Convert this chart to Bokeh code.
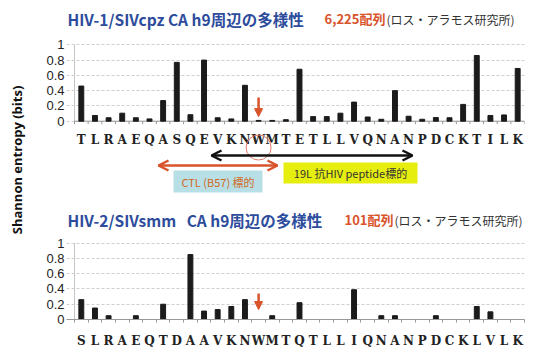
import math
from bokeh.plotting import figure
from bokeh.models import (ColumnDataSource, Range1d, FixedTicker, Label, Arrow,
                          OpenHead, NormalHead, BoxAnnotation)
from bokeh.embed import file_html
from bokeh.resources import INLINE
from bokeh.core.properties import value

# ---------------- data ----------------
top_letters = list("TLRAEQASQEVKNWMTETLLVQNANPDCKTILK")
top_values = [0.46, 0.075, 0.045, 0.105, 0.045, 0.03, 0.27, 0.77, 0.085, 0.80, 0.045,
              0.03, 0.47, 0.01, 0.01, 0.02, 0.68, 0.06, 0.06, 0.105, 0.25, 0.055,
              0.025, 0.40, 0.065, 0.025, 0.048, 0.045, 0.22, 0.86, 0.075, 0.082, 0.69]
bot_letters = list("SLRAEQTDAAVKNWMTQTLLIQNANPDCKLVLK")
bot_values = [0.26, 0.15, 0.05, 0, 0.05, 0, 0.20, 0, 0.85, 0.11, 0.13, 0.17, 0.26, 0,
              0.05, 0, 0.22, 0, 0, 0, 0.39, 0, 0.05, 0.05, 0, 0, 0.05, 0, 0, 0.17,
              0.10, 0, 0]
y_tick_values = [0, 0.2, 0.4, 0.6, 0.8, 1.0]
y_tick_labels = ["0", "0.2", "0.4", "0.6", "0.8", "1"]

top_title = "HIV-1/SIVcpz CA h9周辺の多様性"
top_count = "6,225配列"
bot_title = "HIV-2/SIVsmm\u00a0\u00a0 CA h9周辺の多様性"
bot_count = "101配列"
source_note = "(ロス・アラモス研究所)"
y_label = "Shannon entropy (bits)"
ctl_text = "CTL (B57) 標的"
pep_text = "19L 抗HIV peptide標的"

# ---------------- layout constants ----------------
FL, FR = 66, 24          # left / right borders
FW, FH = 458, 319        # frame size
FB = 28                  # bottom border (x axis)
PXU = 76.4               # pixels per entropy unit
YEND = FH / PXU
PXX = FW / 33.5867
X0 = 0.5 - (74 - FL) / PXX


def my(img_y):   # page y -> main data y
    return (FH - img_y) / PXU


def mx(img_x):   # page x -> data x
    return 0.5 + (img_x - 74) / PXX


T = my(120.7)    # zero of the upper panel inside the main range

xs = list(range(1, len(top_letters) + 1))
top_src = ColumnDataSource(dict(x=xs, v=top_values, lab=top_letters))
bot_src = ColumnDataSource(dict(x=xs, v=bot_values))

p = figure(frame_width=FW, frame_height=FH, output_backend="svg", toolbar_location=None,
           x_range=Range1d(X0, 33.5), y_range=Range1d(0, YEND),
           min_border_left=FL, min_border_right=FR, min_border_top=0,
           min_border_bottom=FB)
p.extra_y_ranges = {"top": Range1d(-T, YEND - T)}
p.outline_line_color = None
p.xgrid.visible = False

# y axis shared by both panels
bt = [round(v, 4) for v in y_tick_values]
tt = [round(T + v, 4) for v in y_tick_values]
yax = p.yaxis[0]
yax.ticker = FixedTicker(ticks=bt + tt)
yax.bounds = (0, tt[-1])
yax.major_label_overrides = {k: l for k, l in zip(bt + tt, y_tick_labels * 2)}
yax.axis_line_color = None
yax.major_tick_line_color = None
yax.major_tick_out = 0
yax.major_tick_in = 0
yax.minor_tick_line_color = None
yax.major_label_standoff = 2
yax.major_label_text_font = "Liberation Sans"
yax.major_label_text_font_size = "13px"
yax.major_label_text_color = "#222222"
yax.axis_label = y_label
yax.axis_label_standoff = 17
yax.axis_label_text_font = "Open Sans"
yax.axis_label_text_font_style = "bold"
yax.axis_label_text_font_size = "13px"
yax.axis_label_text_color = "#111111"
p.ygrid.grid_line_color = "#cfcfcf"
p.ygrid.grid_line_dash = "3 2"

# x axis (lower panel)
xax = p.xaxis[0]
xax.ticker = FixedTicker(ticks=xs, minor_ticks=[i + 0.5 for i in range(0, 34)])
xax.major_label_overrides = {i: l for i, l in zip(xs, bot_letters)}
xax.major_tick_line_color = None
xax.major_tick_out = 0
xax.major_tick_in = 0
xax.minor_tick_out = 3
xax.minor_tick_in = 0
xax.minor_tick_line_color = "#999999"
xax.axis_line_color = "#999999"
xax.major_label_standoff = 11
xax.major_label_text_font = "DejaVu Serif"
xax.major_label_text_font_style = "bold"
xax.major_label_text_font_size = "12px"
xax.major_label_text_color = "#222222"

# panel frames: left vertical line, upper x-axis line with ticks
p.segment(x0=[0.5, 0.5], x1=[0.5, 0.5], y0=[0, T], y1=[1, T + 1],
          line_color="#c4c4c4", line_width=1)
p.segment(x0=0.5, x1=33.5, y0=0, y1=0, line_color="#999999", y_range_name="top")
bnd = [i + 0.5 for i in range(0, 34)]
p.segment(x0=bnd, x1=bnd, y0=[0] * 34, y1=[-3 / PXU] * 34, line_color="#999999",
          y_range_name="top")

# bars
p.vbar(x="x", top="v", width=0.36, source=top_src, color="#1b1b1b", y_range_name="top")
p.vbar(x="x", top="v", width=0.36, source=bot_src, color="#1b1b1b")

# upper panel letters
p.text(x="x", y=-0.24, text="lab", source=top_src, y_range_name="top",
       text_font=value("DejaVu Serif"), text_font_style="bold", text_font_size="12px",
       text_color="#222222", text_align="center", text_baseline="middle")

RED = "#d9532b"
# red down arrows
p.add_layout(Arrow(end=NormalHead(size=8, fill_color=RED, line_color=RED),
                   x_start=14, x_end=14, y_start=0.31, y_end=0.06,
                   line_color=RED, line_width=2.5, y_range_name="top"))
p.add_layout(Arrow(end=NormalHead(size=8, fill_color=RED, line_color=RED),
                   x_start=14, x_end=14, y_start=0.34, y_end=0.13,
                   line_color=RED, line_width=2.5))

# circle around W (upper panel)
p.scatter(x=[14], y=[my(147)], marker="circle", size=25, fill_alpha=0,
          line_color="#e07a66", line_width=1)

# target region annotations
p.add_layout(BoxAnnotation(left=mx(173), right=mx(262), bottom=my(192), top=my(170),
                           fill_color="#b8dfe6", fill_alpha=1, line_color=None))
p.add_layout(BoxAnnotation(left=mx(283), right=mx(417), bottom=my(183), top=my(162),
                           fill_color="#e6ee10", fill_alpha=1, line_color=None))
p.add_layout(Arrow(start=OpenHead(size=10, line_width=2.5, line_color="#111111"),
                   end=OpenHead(size=10, line_width=2.5, line_color="#111111"),
                   x_start=mx(211), x_end=mx(412), y_start=my(155), y_end=my(155),
                   line_color="#111111", line_width=2.5))
p.add_layout(Arrow(start=OpenHead(size=10, line_width=2.5, line_color=RED),
                   end=OpenHead(size=10, line_width=2.5, line_color=RED),
                   x_start=mx(158), x_end=mx(277), y_start=my(165), y_end=my(165),
                   line_color=RED, line_width=2.5))

CJK = "Noto Sans CJK JP"


def lab(x, y, text, size, color, bold=False, align="left", font=CJK):
    p.add_layout(Label(x=x, y=y, text=text, text_font=font, text_font_size=size,
                       text_font_style="bold" if bold else "normal", text_color=color,
                       text_align=align, text_baseline="middle"))


lab(mx(217.5), my(181), ctl_text, "11px", "#d2691e", align="center")
lab(mx(350), my(172.5), pep_text, "11px", "#333333", align="center")

BLUE = "#2d4c9c"
lab(mx(67), my(18), top_title, "15.5px", BLUE, bold=True)
lab(mx(324), my(18), top_count, "13px", RED, bold=True)
lab(mx(386), my(19), source_note, "12px", "#333333")
lab(mx(67), my(219), bot_title, "15.5px", BLUE, bold=True)
lab(mx(344), my(219), bot_count, "13px", RED, bold=True)
lab(mx(394), my(220), source_note, "12px", "#333333")

open("out.html", "w").write(file_html(p, INLINE))
